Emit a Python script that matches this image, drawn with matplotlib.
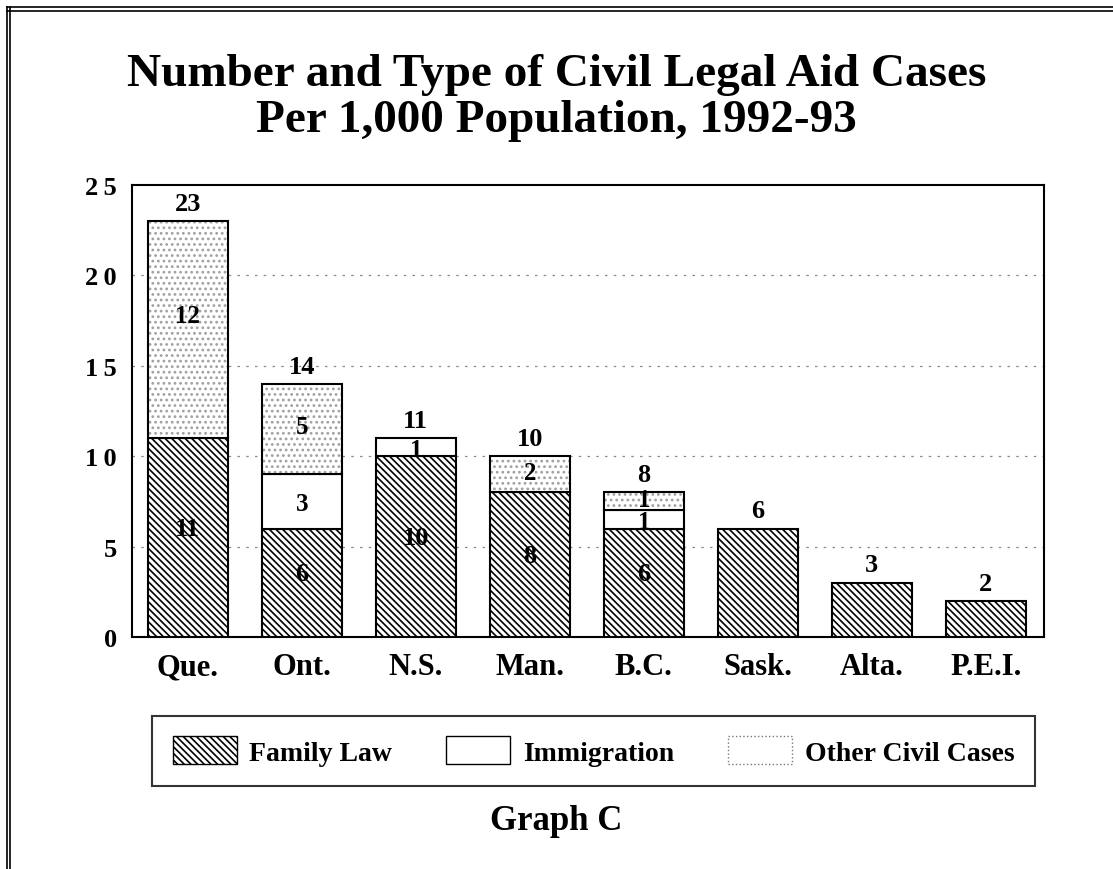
import numpy as np
import matplotlib.pyplot as plt
from matplotlib.patches import Patch
from matplotlib.lines import Line2D

provinces = ['Que.', 'Ont.', 'N.S.', 'Man.', 'B.C.', 'Sask.', 'Alta.', 'P.E.I.']
family = [11, 6, 10, 8, 6, 6, 3, 2]
immigration = [0, 3, 1, 0, 1, 0, 0, 0]
other = [12, 5, 0, 2, 1, 0, 0, 0]
totals = [23, 14, 11, 10, 8, 6, 3, 2]
yticks = [0, 5, 10, 15, 20, 25]

plt.rcParams['font.family'] = ['Liberation Serif', 'DejaVu Serif']
plt.rcParams['font.weight'] = 'bold'
plt.rcParams['hatch.linewidth'] = 1.2

fig = plt.figure(figsize=(11.13, 8.70), dpi=100)
W, H = 1113, 870
ax = fig.add_axes([132 / W, (H - 638) / H, 912 / W, 452 / H])

x = np.arange(len(provinces))
fam = np.array(family)
imm = np.array(immigration)
oth = np.array(other)
bw = 0.70
dense = '\\' * 5

# family law
ax.bar(x, fam, bw, color='white', edgecolor='black', hatch=dense, lw=1.5, zorder=3)
# immigration
m = imm > 0
ax.bar(x[m], imm[m], bw, bottom=fam[m], color='white', edgecolor='black', lw=1.5, zorder=3)
# other civil cases (stipple)
m = oth > 0
ax.bar(x[m], oth[m], bw, bottom=(fam + imm)[m], color='white', edgecolor='#a0a0a0',
       hatch='...', lw=0, zorder=3)
ax.bar(x[m], oth[m], bw, bottom=(fam + imm)[m], fill=False, edgecolor='black', lw=1.5, zorder=4)

# labels inside segments
for i in range(len(x)):
    if family[i] > 0 and (immigration[i] + other[i]) > 0:
        ax.text(x[i], family[i] / 2 + 0.5, str(family[i]), ha='center', va='center',
                fontsize=19, zorder=5)
    if immigration[i] > 0:
        ax.text(x[i], family[i] + immigration[i] / 2 - 0.12, str(immigration[i]), ha='center',
                va='center', fontsize=18, zorder=5)
    if other[i] > 0:
        ax.text(x[i], family[i] + immigration[i] + other[i] / 2 + (0.8 if other[i] > 10 else 0.12),
                str(other[i]), ha='center', va='center', fontsize=18, zorder=5)
    ax.text(x[i], totals[i] + 0.35, str(totals[i]), ha='center', va='bottom', fontsize=19, zorder=5)

ax.set_xlim(-0.49, 7.51)
ax.set_ylim(0, 25)
ax.set_yticks(yticks)
ax.set_yticklabels(['\u2009'.join(str(v)) for v in yticks], fontsize=19)
ax.set_xticks(x)
ax.set_xticklabels(provinces, fontsize=22)
ax.tick_params(axis='both', length=0)
ax.tick_params(axis='y', pad=11)
ax.tick_params(axis='x', pad=11)
for s in ax.spines.values():
    s.set_linewidth(1.5)
for v in [5, 10, 15, 20]:
    ax.axhline(v, color='#8a8a8a', lw=0.9, ls=(0, (2, 5)), zorder=1)

fig.text(0.5, (H - 98) / H, 'Number and Type of Civil Legal Aid Cases\nPer 1,000 Population, 1992-93',
         ha='center', va='center', fontsize=34, linespacing=1.12)

handles = [Patch(facecolor='white', edgecolor='black', hatch=dense, lw=1.0),
           Patch(facecolor='white', edgecolor='black', lw=1.0),
           Patch(facecolor='white', edgecolor='#777777', lw=1.0, ls=':')]
leg = fig.legend(handles, ['Family Law', 'Immigration', 'Other Civil Cases'],
                 loc='center', bbox_to_anchor=(152 / W, (H - 788) / H, 883 / W, 72 / H),
                 mode='expand', ncol=3, fontsize=20, frameon=True, fancybox=False,
                 edgecolor='black', handlelength=2.3, handleheight=1.15, handletextpad=0.45,
                 borderaxespad=0, borderpad=0.75, columnspacing=1.0)
leg.get_frame().set_linewidth(1.5)

fig.text(0.5, (H - 822) / H, 'Graph C', ha='center', va='center', fontsize=25)

# page border from the scan
for xx in [7 / W, 10 / W]:
    fig.add_artist(Line2D([xx, xx], [0, 1 - 8 / H], color='black', lw=1.2))
for yy in [1 - 8 / H, 1 - 12 / H]:
    fig.add_artist(Line2D([7 / W, 1], [yy, yy], color='black', lw=1.2))

fig.savefig('out.png', dpi=100)
